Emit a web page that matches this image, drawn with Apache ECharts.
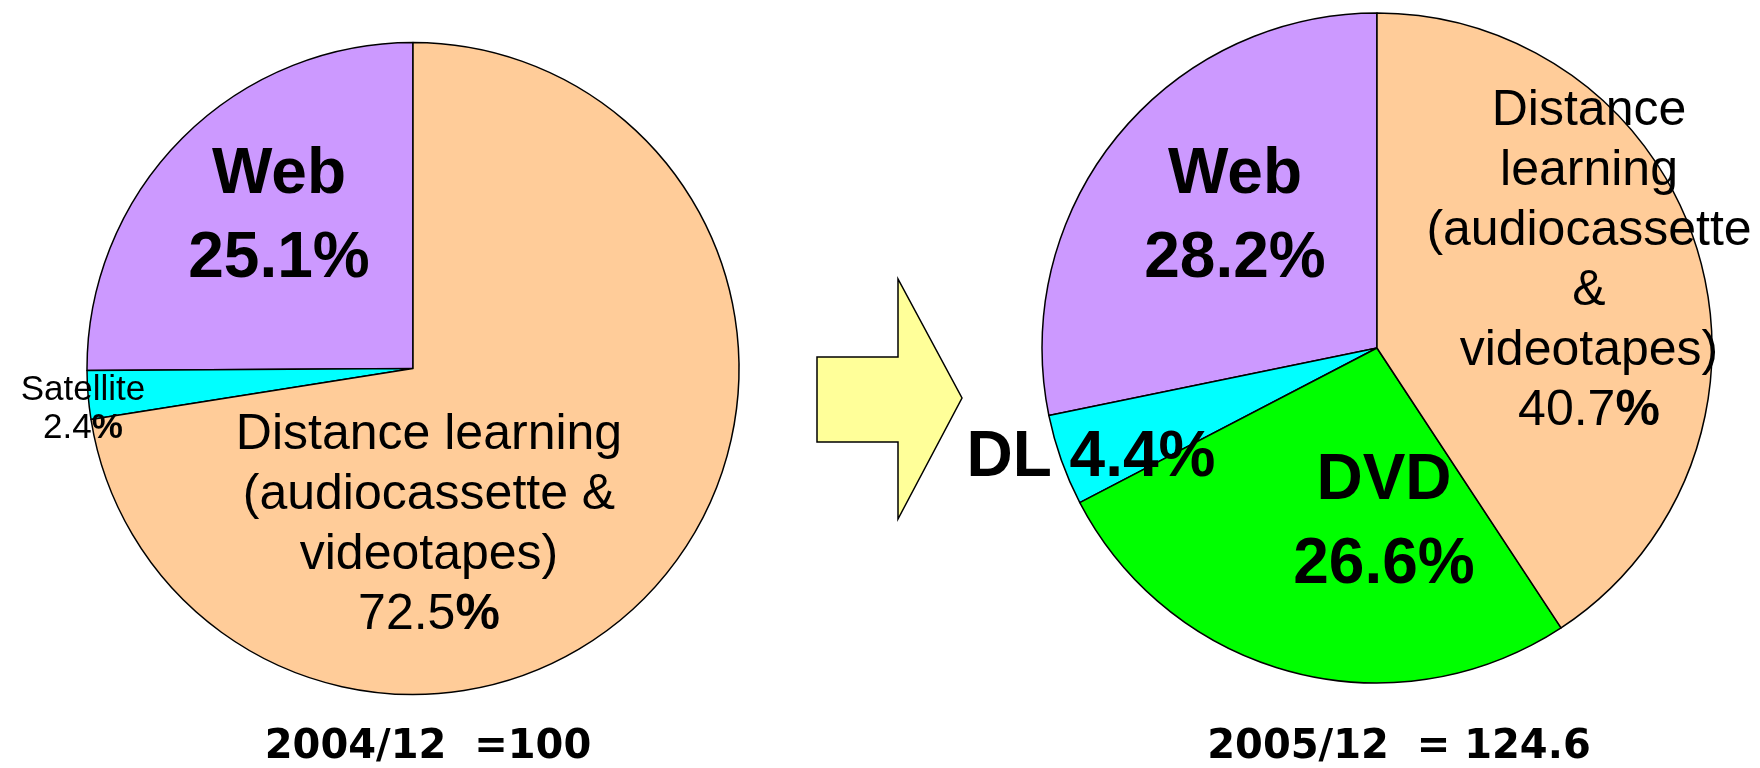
<!DOCTYPE html>
<html>
<head>
<meta charset="utf-8">
<script src="https://cdn.jsdelivr.net/npm/echarts@6/dist/echarts.min.js"></script>
<style>
  html, body { margin: 0; padding: 0; background: #ffffff; }
  #chart { width: 1760px; height: 768px; }
</style>
</head>
<body>
<div id="chart"></div>
<script>
// Share of enrolments by delivery method, Dec 2004 vs Dec 2005
const names2004 = ['Web', 'Satellite', 'Distance learning\n(audiocassette &\nvideotapes)'];
const shares2004 = [25.1, 2.4, 72.5];

const names2005 = ['Web', 'DL', 'DVD', 'Distance\nlearning\n(audiocassette\n&\nvideotapes)'];
const shares2005 = [28.2, 4.4, 26.6, 40.7];

const captions = ['2004/12  =100', '2005/12  = 124.6'];

const SANS = '"Liberation Sans", Arial, Helvetica, sans-serif';
const sliceColor = {
  'Web': '#CC99FF',
  'Satellite': '#00FFFF',
  'DL': '#00FFFF',
  'DVD': '#00FF00'
};
const peach = '#FFCC99';

// label style per slice: big bold two-line, small, regular multi-line, inline bold
const labelKind2004 = ['big', 'small', 'reg'];
const labelKind2005 = ['big', 'inline', 'big', 'reg'];

// label centres (px) for each series / slice
const labelSpots = [
  [[279, 217], [83, 409], [429, 525]],
  [[1235, 217], [1091, 458], [1384, 523.5], [1589, 261]]
];

function labelText(kind, name, value) {
  const v = value.toFixed(1);
  if (kind === 'big') return '{big|' + name + '}\n{big|' + v + '%}';
  if (kind === 'inline') return '{big|' + name + ' ' + v + '%}';
  if (kind === 'small') return '{sm|' + name + '}\n{sm|' + v + '}{smp|%}';
  const lines = name.split('\n').map(function (l) { return '{reg|' + l + '}'; });
  lines.push('{reg|' + v + '}{regp|%}');
  return lines.join('\n');
}

const rich = {
  big: { fontFamily: SANS, fontSize: 64, fontWeight: 'bold', lineHeight: 84, color: '#000' },
  reg: { fontFamily: SANS, fontSize: 50, lineHeight: 60, color: '#000' },
  regp: { fontFamily: SANS, fontSize: 50, fontWeight: 'bold', lineHeight: 60, color: '#000' },
  sm: { fontFamily: SANS, fontSize: 35, lineHeight: 38, color: '#000' },
  smp: { fontFamily: SANS, fontSize: 35, fontWeight: 'bold', lineHeight: 38, color: '#000' }
};

function buildData(names, values, kinds) {
  return names.map(function (n, i) {
    return {
      name: n,
      value: values[i],
      itemStyle: { color: sliceColor[n] || peach },
      label: {
        formatter: function (p) { return labelText(kinds[i], p.name, p.value); }
      }
    };
  });
}

function pieSeries(names, values, kinds, center, radius) {
  return {
    type: 'pie',
    center: center,
    radius: radius,
    startAngle: 90,
    clockwise: false,
    avoidLabelOverlap: false,
    silent: true,
    label: { show: true, position: 'inside', rich: rich },
    labelLine: { show: false },
    itemStyle: { borderColor: '#000', borderWidth: 1.5 },
    emphasis: { disabled: true },
    labelLayout: function (params) {
      const spot = labelSpots[params.seriesIndex][params.dataIndex];
      return { x: spot[0], y: spot[1], align: 'center', verticalAlign: 'middle' };
    },
    data: buildData(names, values, kinds)
  };
}

const chart = echarts.init(document.getElementById('chart'));
chart.setOption({
  animation: false,
  backgroundColor: '#ffffff',
  series: [
    pieSeries(names2004, shares2004, labelKind2004, [413, 368.5], 326),
    pieSeries(names2005, shares2005, labelKind2005, [1377, 348], 335)
  ],
  graphic: [
    {
      // block arrow between the two years
      type: 'polygon',
      z: 1,
      shape: {
        points: [[817, 357], [898, 357], [898, 279], [962, 398], [898, 519], [898, 442], [817, 442]]
      },
      style: { fill: '#FFFF99', stroke: '#000', lineWidth: 1.5 }
    },
    {
      type: 'text',
      x: 428, y: 748,
      style: {
        text: captions[0], align: 'center', verticalAlign: 'middle',
        font: 'bold 40px "DejaVu Sans", sans-serif', fill: '#000'
      }
    },
    {
      type: 'text',
      x: 1399, y: 748,
      style: {
        text: captions[1], align: 'center', verticalAlign: 'middle',
        font: 'bold 40px "DejaVu Sans", sans-serif', fill: '#000'
      }
    }
  ]
});
</script>
</body>
</html>
